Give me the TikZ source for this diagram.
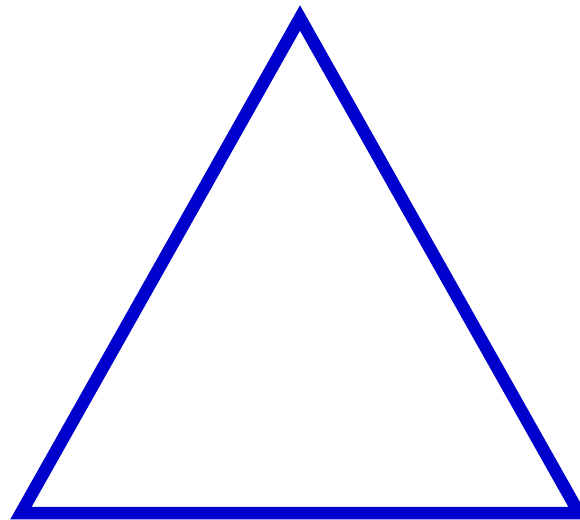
\documentclass[tikz,border=0pt]{standalone}
\definecolor{triblue}{RGB}{0,0,205}
\begin{document}
\begin{tikzpicture}[x=1pt,y=-1pt,
  tri/.style={draw=triblue,line width=12.5pt,line join=miter,miter limit=10}]
\useasboundingbox (0,0) rectangle (580,519);
\fill[white] (0,0) rectangle (580,519);
\coordinate (apex) at (300,18);
\coordinate (left) at (21,513);
\coordinate (right) at (579,513);
\draw[tri] (apex) -- (right) -- (left) -- cycle;
\end{tikzpicture}
\end{document}
